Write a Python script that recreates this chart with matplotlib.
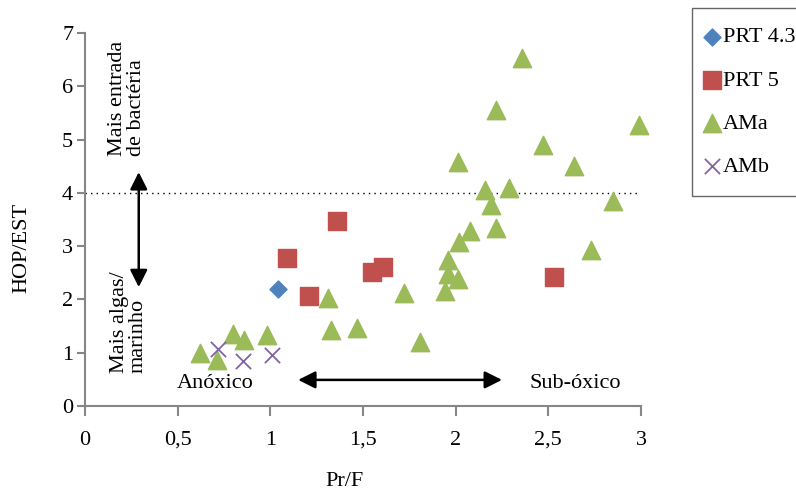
import matplotlib
matplotlib.use("Agg")
import matplotlib.pyplot as plt
from matplotlib.ticker import FuncFormatter

plt.rcParams["font.family"] = ["Liberation Serif", "DejaVu Serif"]

# ── Data (Pr/F vs HOP/EST) ────────────────────────────────────────────────────

prt43_x = [1.04]
prt43_y = [2.19]

prt5_x = [1.09, 1.21, 1.36, 1.55, 1.61, 2.53]
prt5_y = [2.77, 2.06, 3.47, 2.52, 2.60, 2.42]

ama_x = [0.62, 0.71, 0.80, 0.86, 0.98, 1.31, 1.33, 1.47, 1.72, 1.81,
         1.94, 1.96, 1.96, 2.01, 2.02, 2.01, 2.08, 2.16, 2.19, 2.22,
         2.22, 2.29, 2.36, 2.47, 2.64, 2.73, 2.85, 2.99]
ama_y = [0.99, 0.86, 1.36, 1.24, 1.33, 2.03, 1.42, 1.46, 2.13, 1.21,
         2.15, 2.48, 2.74, 2.39, 3.07, 4.58, 3.29, 4.05, 3.77, 3.34,
         5.56, 4.10, 6.54, 4.89, 4.50, 2.92, 3.85, 5.27]

amb_x = [0.72, 0.85, 1.01]
amb_y = [1.07, 0.85, 0.96]

X_TICKS = [0, 0.5, 1, 1.5, 2, 2.5, 3]
Y_TICKS = [0, 1, 2, 3, 4, 5, 6, 7]
THRESHOLD = 4

BLUE, RED, GREEN, PURPLE = "#4F81BD", "#C0504D", "#9BBB59", "#8064A2"
AXIS_GREY = "#868686"
FS = 16

# ── Plot ──────────────────────────────────────────────────────────────────────

W, H = 796, 492
fig = plt.figure(figsize=(W / 100, H / 100), dpi=100)
ax = fig.add_axes([85 / W, 1 - 406 / H, (641 - 85) / W, (406 - 33) / H])

ax.scatter(prt43_x, prt43_y, marker="D", s=75, color=BLUE, label="PRT 4.3",
           zorder=3, clip_on=False)
ax.scatter(prt5_x, prt5_y, marker="s", s=150, color=RED, label="PRT 5",
           zorder=3, clip_on=False)
ax.scatter(ama_x, ama_y, marker="^", s=175, color=GREEN, label="AMa",
           zorder=3, clip_on=False)
ax.scatter(amb_x, amb_y, marker="x", s=120, color=PURPLE, linewidths=1.3,
           label="AMb", zorder=3, clip_on=False)

ax.plot([0, 3], [THRESHOLD, THRESHOLD], color="black", linestyle=(0, (1, 3)),
        linewidth=1.0, zorder=1)

# double-headed arrows and region labels
arrow = dict(arrowstyle="<|-|>", color="black", lw=1.8, mutation_scale=26,
             shrinkA=0, shrinkB=0)
ax.annotate("", xy=(0.29, 4.39), xytext=(0.29, 2.23), arrowprops=arrow)
ax.annotate("", xy=(2.25, 0.49), xytext=(1.15, 0.49), arrowprops=arrow)

ax.text(0.225, 5.78, "Mais entrada\nde bactéria", rotation=90, fontsize=FS,
        ha="center", va="center", multialignment="left", linespacing=1.0)
ax.text(0.235, 1.58, "Mais algas/\nmarinho", rotation=90, fontsize=FS,
        ha="center", va="center", multialignment="left", linespacing=1.0)
ax.text(0.70, 0.43, "Anóxico", fontsize=FS, ha="center", va="center")
ax.text(2.645, 0.43, "Sub-óxico", fontsize=FS, ha="center", va="center")

ax.set_xlim(0, 3)
ax.set_ylim(0, 7)
ax.set_xticks(X_TICKS)
ax.set_yticks(Y_TICKS)
ax.xaxis.set_major_formatter(FuncFormatter(lambda v, _: f"{v:g}".replace(".", ",")))
ax.tick_params(axis="both", direction="out", width=1.5, color=AXIS_GREY,
               labelsize=FS)
ax.tick_params(axis="x", length=7, pad=11)
ax.tick_params(axis="y", length=5.5, pad=3)

for side in ("top", "right"):
    ax.spines[side].set_visible(False)
for side in ("left", "bottom"):
    ax.spines[side].set_color(AXIS_GREY)
    ax.spines[side].set_linewidth(1.5)

ax.set_xlabel("Pr/F", fontsize=FS)
ax.set_ylabel("HOP/EST", fontsize=FS)
ax.xaxis.set_label_coords((345 - 85) / (641 - 85), -(482 - 406) / (406 - 33))
ax.yaxis.set_label_coords(-(85 - 22) / (641 - 85), (406 - 248) / (406 - 33))
ax.xaxis.label.set_va("center")
ax.yaxis.label.set_va("center")

fig.legend(loc="upper left", bbox_to_anchor=(692 / W, 1 - 8 / H),
           borderaxespad=0, frameon=True, fancybox=False, edgecolor="#404040",
           fontsize=FS, labelspacing=1.02, handlelength=0.1, handletextpad=0.45,
           borderpad=0.85, scatterpoints=1)

fig.savefig("out.png", dpi=100)
